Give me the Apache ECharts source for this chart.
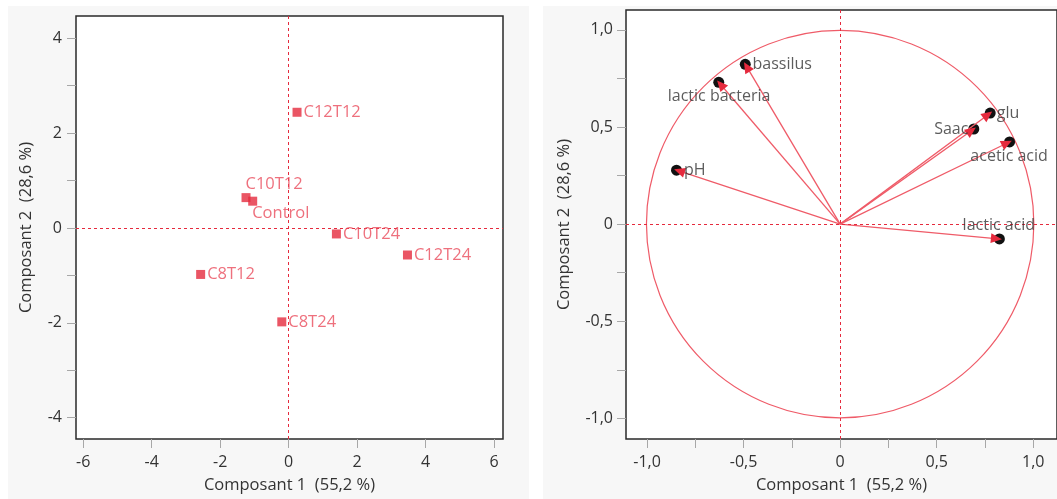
<!DOCTYPE html>
<html>
<head>
<meta charset="utf-8">
<script src="https://cdn.jsdelivr.net/npm/echarts@6/dist/echarts.min.js"></script>
<style>
html,body{margin:0;padding:0;background:#fff;}
#chart{width:1057px;height:499px;}
</style>
</head>
<body>
<div id="chart"></div>
<script>
// ---- Score plot (left) ----
const scoreNames = ['C12T12', 'C10T12', 'Control', 'C10T24', 'C12T24', 'C8T12', 'C8T24'];
const scoreX = [0.245, -1.245, -1.05, 1.395, 3.47, -2.57, -0.2];
const scoreY = [2.44, 0.64, 0.565, -0.126, -0.57, -0.98, -1.98];
const scoreXTicks = [-6, -4, -2, 0, 2, 4, 6];
const scoreYTicks = [-4, -3, -2, -1, 0, 1, 2, 3, 4];
const scoreYLabels = [-4, -2, 0, 2, 4];

// ---- Loading plot (right) ----
const loadNames = ['bassilus', 'lactic bacteria', 'pH', 'glu', 'Saac', 'acetic acid', 'lactic acid'];
const loadX = [-0.49, -0.627, -0.845, 0.775, 0.69, 0.875, 0.822];
const loadY = [0.82, 0.728, 0.277, 0.57, 0.488, 0.422, -0.076];
const loadTicks = [-1, -0.75, -0.5, -0.25, 0, 0.25, 0.5, 0.75, 1];
const loadLabels = [-1, -0.5, 0, 0.5, 1];
const circleRadius = [1];

const xTitle = 'Composant 1  (55,2 %)';
const yTitle = 'Composant 2  (28,6 %)';

// label placement (style only)
const scoreLabelPos = {
  'C10T12': {position: 'right', offset: [-7, -13]},
  'Control': {position: 'right', offset: [-7, 12]}
};
const loadLabelPos = {
  'bassilus': {position: 'right', distance: 2},
  'lactic bacteria': {position: 'bottom', distance: 1},
  'pH': {position: 'right', distance: 2},
  'glu': {position: 'right', distance: 2},
  'Saac': {position: 'left', distance: 0},
  'acetic acid': {position: 'bottom', distance: 1},
  'lactic acid': {position: 'top', distance: 0}
};

const FONT = 'Open Sans';
const RED = '#e52a3d';
const RED_TXT = '#ea4c5c';
const LINE_RED = '#ef5b68';
const TXT = '#333';
const TICK_FS = 16;
const TITLE_FS = 16.5;

function fmtComma(v) {
  if (v === 0) return '0';
  return v.toFixed(1).replace('.', ',');
}

function mkAxis(extra) {
  return Object.assign({
    type: 'value',
    axisLine: {show: false, onZero: false},
    splitLine: {show: false},
    nameLocation: 'middle',
    nameTextStyle: {color: TXT, fontFamily: FONT, fontSize: TITLE_FS}
  }, extra);
}
function tick(values) {
  return {show: true, inside: false, length: 9, lineStyle: {color: '#a8a8a8', width: 1}, customValues: values};
}
function lab(values, margin, fmt) {
  return {color: TXT, fontFamily: FONT, fontSize: TICK_FS, margin: margin, customValues: values, formatter: fmt};
}

const chart = echarts.init(document.getElementById('chart'), null, {renderer: 'canvas'});

const scoreData = scoreNames.map((n, i) => {
  const d = {name: n, value: [scoreX[i], scoreY[i]]};
  if (scoreLabelPos[n]) d.label = scoreLabelPos[n];
  return d;
});
const loadData = loadNames.map((n, i) => {
  const d = {name: n, value: [loadX[i], loadY[i]]};
  if (loadLabelPos[n]) d.label = loadLabelPos[n];
  return d;
});
const loadPairs = loadNames.map((n, i) => [loadX[i], loadY[i]]);

const zeroLines = {
  silent: true, symbol: 'none', animation: false,
  label: {show: false},
  lineStyle: {color: RED, type: [3, 3], width: 1},
  data: [{xAxis: 0}, {yAxis: 0}]
};

function unitDir(api) {
  const p0 = api.coord([0, 0]);
  const p1 = api.coord([api.value(0), api.value(1)]);
  const dx = p1[0] - p0[0], dy = p1[1] - p0[1];
  const len = Math.sqrt(dx * dx + dy * dy);
  return {p0: p0, p1: p1, ux: dx / len, uy: dy / len};
}

const option = {
  animation: false,
  backgroundColor: '#ffffff',
  graphic: [
    {type: 'rect', left: 8, top: 6, shape: {width: 521, height: 493}, style: {fill: '#f7f7f7'}, z: -10},
    {type: 'rect', left: 543, top: 6, shape: {width: 514, height: 493}, style: {fill: '#f7f7f7'}, z: -10}
  ],
  grid: [
    {left: 76, top: 16, width: 427, height: 427, show: true, backgroundColor: '#fff', borderColor: '#2a2a2a', borderWidth: 1.5},
    {left: 626, top: 10, width: 436, height: 433, show: true, backgroundColor: '#fff', borderColor: '#2a2a2a', borderWidth: 1.5}
  ],
  xAxis: [
    mkAxis({gridIndex: 0, min: -6.21, max: 6.26, name: xTitle, nameGap: 38,
      axisTick: tick(scoreXTicks), axisLabel: lab(scoreXTicks, 15, v => String(v))}),
    mkAxis({gridIndex: 1, min: -1.109, max: 1.123, name: xTitle, nameGap: 38,
      axisTick: tick(loadTicks), axisLabel: lab(loadLabels, 15, fmtComma)})
  ],
  yAxis: [
    mkAxis({gridIndex: 0, min: -4.45, max: 4.47, name: yTitle, nameGap: 41,
      axisTick: tick(scoreYTicks), axisLabel: lab(scoreYLabels, 14, v => String(v))}),
    mkAxis({gridIndex: 1, min: -1.106, max: 1.102, name: yTitle, nameGap: 53,
      axisTick: tick(loadTicks), axisLabel: lab(loadLabels, 13, fmtComma)})
  ],
  series: [
    {
      type: 'scatter', xAxisIndex: 0, yAxisIndex: 0, symbol: 'rect', symbolSize: 9,
      itemStyle: {color: RED},
      data: scoreData,
      label: {show: true, position: 'right', distance: 2, formatter: p => p.name, color: RED_TXT, fontFamily: FONT, fontSize: 16.5},
      markLine: zeroLines,
      z: 5
    },
    {
      type: 'custom', xAxisIndex: 1, yAxisIndex: 1,
      data: circleRadius.map(r => [0, 0, r]),
      renderItem: function (params, api) {
        const c = api.coord([api.value(0), api.value(1)]);
        const s = api.size([api.value(2), api.value(2)]);
        return {type: 'circle', shape: {cx: c[0], cy: c[1], r: (s[0] + s[1]) / 2}, style: {fill: 'none', stroke: LINE_RED, lineWidth: 1.2}};
      },
      silent: true, z: 2,
      markLine: zeroLines
    },
    {
      // black end dots
      type: 'custom', xAxisIndex: 1, yAxisIndex: 1,
      data: loadPairs,
      encode: {x: 0, y: 1},
      renderItem: function (params, api) {
        const d = unitDir(api);
        return {type: 'circle', shape: {cx: d.p1[0] + d.ux * 0.5, cy: d.p1[1] + d.uy * 0.5, r: 5.5}, style: {fill: '#111'}};
      },
      silent: true, z: 3
    },
    {
      // arrows
      type: 'custom', xAxisIndex: 1, yAxisIndex: 1,
      data: loadPairs,
      encode: {x: 0, y: 1},
      renderItem: function (params, api) {
        const d = unitDir(api);
        const ux = d.ux, uy = d.uy, p0 = d.p0, p1 = d.p1;
        const L = 11, W = 5;
        const tx = p1[0] + ux * 3, ty = p1[1] + uy * 3;
        const bx = tx - ux * L, by = ty - uy * L;
        return {
          type: 'group', children: [
            {type: 'line', shape: {x1: p0[0], y1: p0[1], x2: bx + ux * 2, y2: by + uy * 2}, style: {stroke: LINE_RED, lineWidth: 1.3}},
            {type: 'polygon', shape: {points: [[tx, ty], [bx - uy * W, by + ux * W], [bx + uy * W, by - ux * W]]}, style: {fill: RED}}
          ]
        };
      },
      silent: true, z: 4
    },
    {
      type: 'scatter', xAxisIndex: 1, yAxisIndex: 1, symbol: 'circle', symbolSize: 10,
      itemStyle: {color: 'rgba(0,0,0,0)'},
      data: loadData,
      label: {show: true, formatter: p => p.name, color: TXT, fontFamily: FONT, fontSize: 16},
      z: 6
    }
  ]
};
chart.setOption(option);
</script>
</body>
</html>
